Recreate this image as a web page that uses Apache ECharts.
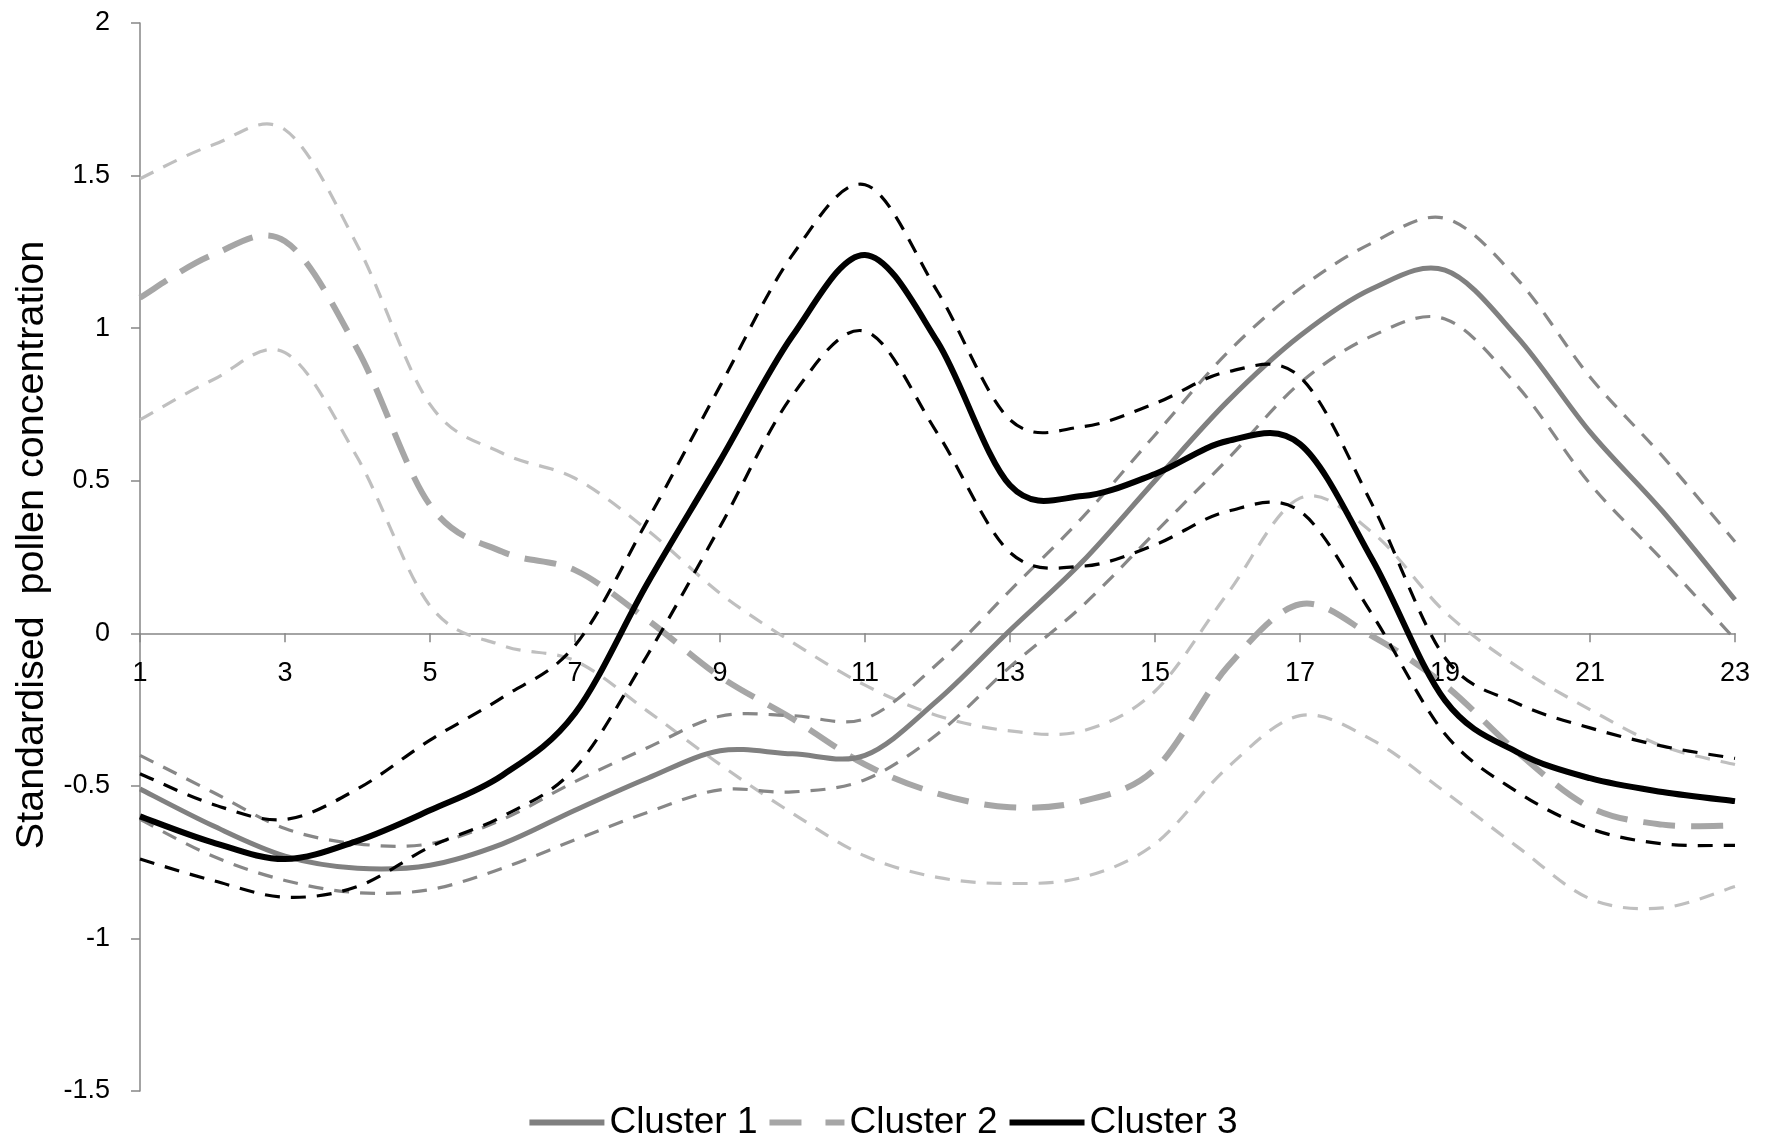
<!DOCTYPE html>
<html>
<head>
<meta charset="utf-8">
<script src="https://cdn.jsdelivr.net/npm/echarts@6/dist/echarts.min.js"></script>
<style>
html,body{margin:0;padding:0;background:#fff;}
#chart{width:1767px;height:1138px;}
</style>
</head>
<body>
<div id="chart"></div>
<script>
// Hours / categories
var categories = ['1','2','3','4','5','6','7','8','9','10','11','12','13','14','15','16','17','18','19','20','21','22','23'];

// Cluster 1: mean and confidence bounds
var cluster1      = [-0.51,-0.63,-0.73,-0.77,-0.76,-0.69,-0.58,-0.475,-0.385,-0.395,-0.40,-0.22,0.01,0.235,0.50,0.76,0.975,1.13,1.19,0.97,0.66,0.40,0.11];
var cluster1Upper = [-0.40,-0.52,-0.64,-0.69,-0.69,-0.61,-0.486,-0.375,-0.272,-0.27,-0.28,-0.10,0.14,0.38,0.65,0.92,1.13,1.28,1.36,1.16,0.84,0.58,0.30];
var cluster1Lower = [-0.61,-0.73,-0.81,-0.85,-0.84,-0.77,-0.677,-0.587,-0.513,-0.52,-0.48,-0.33,-0.11,0.09,0.33,0.57,0.82,0.975,1.03,0.81,0.49,0.24,-0.02];

// Cluster 2: mean and confidence bounds
var cluster2      = [1.10,1.24,1.285,0.93,0.42,0.267,0.207,0.044,-0.142,-0.28,-0.43,-0.525,-0.57,-0.55,-0.445,-0.11,0.095,-0.01,-0.17,-0.39,-0.57,-0.627,-0.63];
var cluster2Upper = [1.49,1.60,1.65,1.27,0.75,0.59,0.508,0.338,0.131,-0.03,-0.17,-0.27,-0.32,-0.32,-0.19,0.13,0.443,0.33,0.07,-0.11,-0.25,-0.37,-0.43];
var cluster2Lower = [0.70,0.83,0.92,0.575,0.09,-0.04,-0.09,-0.255,-0.43,-0.59,-0.73,-0.80,-0.82,-0.80,-0.69,-0.44,-0.27,-0.35,-0.52,-0.70,-0.87,-0.90,-0.83];

// Cluster 3: mean and confidence bounds
var cluster3      = [-0.60,-0.685,-0.74,-0.68,-0.58,-0.465,-0.262,0.164,0.565,0.975,1.24,0.955,0.485,0.45,0.522,0.63,0.62,0.24,-0.22,-0.39,-0.475,-0.52,-0.55];
var cluster3Upper = [-0.46,-0.56,-0.61,-0.51,-0.35,-0.21,-0.04,0.37,0.81,1.24,1.47,1.12,0.70,0.677,0.753,0.857,0.84,0.42,-0.08,-0.23,-0.31,-0.37,-0.41];
var cluster3Lower = [-0.74,-0.81,-0.865,-0.83,-0.70,-0.60,-0.442,-0.071,0.349,0.78,0.99,0.655,0.265,0.22,0.29,0.40,0.40,0.06,-0.33,-0.52,-0.64,-0.69,-0.695];

var legendNames = ['Cluster 1','Cluster 2','Cluster 3'];
var yTitle = 'Standardised  pollen concentration';

var FONT = 'Liberation Sans';
var AXIS = '#868686';
var Y_MIN = -1.5, Y_MAX = 2;
var GRID = { left: 140, right: 32, top: 23, bottom: 47 };

// Smoothed line (Catmull-Rom / Bezier, like a spreadsheet "smoothed line"),
// positioned through the chart's own axes with api.coord.
function smoothLine(name, values, color, width, dash, z) {
  return {
    name: name,
    type: 'custom',
    z: z,
    silent: true,
    animation: false,
    itemStyle: { color: color },
    data: values.map(function (v, i) { return [i, v]; }),
    encode: { x: 0, y: 1 },
    renderItem: function (params, api) {
      if (params.dataIndex !== 0) return null;
      var p = values.map(function (v, i) { return api.coord([i, v]); });
      var n = p.length;
      var d = 'M' + p[0][0] + ' ' + p[0][1];
      for (var i = 0; i < n - 1; i++) {
        var p0 = p[Math.max(i - 1, 0)], p1 = p[i], p2 = p[i + 1], p3 = p[Math.min(i + 2, n - 1)];
        var c1x = p1[0] + (p2[0] - p0[0]) / 6, c1y = p1[1] + (p2[1] - p0[1]) / 6;
        var c2x = p2[0] - (p3[0] - p1[0]) / 6, c2y = p2[1] - (p3[1] - p1[1]) / 6;
        d += ' C' + c1x + ' ' + c1y + ' ' + c2x + ' ' + c2y + ' ' + p2[0] + ' ' + p2[1];
      }
      return {
        type: 'path',
        shape: { pathData: d },
        style: {
          fill: null,
          stroke: color,
          lineWidth: width,
          lineDash: dash,
          lineCap: 'butt',
          lineJoin: 'round'
        }
      };
    }
  };
}

var ciDash = [15, 11];
var zeroOffset = -(1138 - GRID.top - GRID.bottom) * (0 - Y_MIN) / (Y_MAX - Y_MIN);

var chart = echarts.init(document.getElementById('chart'), null, {renderer: 'canvas'});
chart.setOption({
  backgroundColor: '#fff',
  animation: false,
  grid: { left: GRID.left, right: GRID.right, top: GRID.top, bottom: GRID.bottom, containLabel: false },
  legend: {
    data: [
      { name: legendNames[0], icon: 'rect', itemStyle: { color: '#808080' } },
      { name: legendNames[1], icon: 'path://M0,0 L32,0 L32,6 L0,6 Z M56,0 L75,0 L75,6 L56,6 Z', itemStyle: { color: '#a6a6a6' } },
      { name: legendNames[2], icon: 'rect', itemStyle: { color: '#000000' } }
    ],
    left: 'center',
    top: 1099,
    itemWidth: 75,
    itemHeight: 6,
    itemGap: 12,
    selectedMode: false,
    textStyle: { fontFamily: FONT, fontSize: 37, color: '#000' }
  },
  xAxis: {
    type: 'category',
    data: categories,
    boundaryGap: false,
    offset: zeroOffset,
    axisLine: { onZero: false, lineStyle: { color: AXIS, width: 1.5 } },
    axisTick: { show: true, interval: 1, length: 9, lineStyle: { color: AXIS, width: 1.5 } },
    axisLabel: { interval: 1, margin: 27, fontFamily: FONT, fontSize: 27, color: '#000' },
    splitLine: { show: false }
  },
  yAxis: {
    type: 'value',
    min: Y_MIN, max: Y_MAX, interval: 0.5,
    name: yTitle,
    nameLocation: 'middle',
    nameGap: 77,
    nameRotate: 90,
    nameTextStyle: { fontFamily: FONT, fontSize: 39.5, color: '#000', padding: [0, 0, 0, 24] },
    axisLine: { show: true, lineStyle: { color: AXIS, width: 1.5 } },
    axisTick: { show: true, length: 9, lineStyle: { color: AXIS, width: 1.5 } },
    axisLabel: { margin: 30, fontFamily: FONT, fontSize: 27, color: '#000' },
    splitLine: { show: false }
  },
  series: [
    smoothLine('Cluster 2 upper', cluster2Upper, '#bfbfbf', 3.2, ciDash, 1),
    smoothLine('Cluster 2 lower', cluster2Lower, '#bfbfbf', 3.2, ciDash, 1),
    smoothLine('Cluster 2', cluster2, '#a6a6a6', 6, [32, 16], 2),
    smoothLine('Cluster 1 upper', cluster1Upper, '#878787', 3.2, ciDash, 3),
    smoothLine('Cluster 1 lower', cluster1Lower, '#878787', 3.2, ciDash, 3),
    smoothLine('Cluster 1', cluster1, '#808080', 5, null, 4),
    smoothLine('Cluster 3 upper', cluster3Upper, '#000000', 3.2, ciDash, 5),
    smoothLine('Cluster 3 lower', cluster3Lower, '#000000', 3.2, ciDash, 5),
    smoothLine('Cluster 3', cluster3, '#000000', 6, null, 6)
  ]
});
</script>
</body>
</html>
